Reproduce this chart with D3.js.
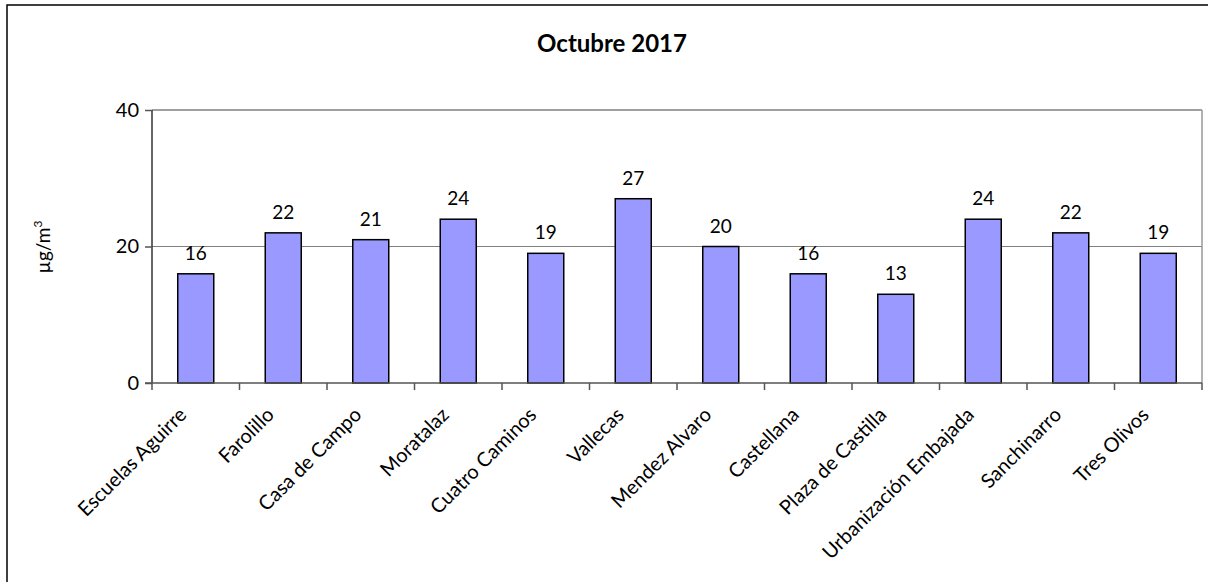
<!DOCTYPE html>
<html><head><meta charset="utf-8">
<script src="https://cdn.jsdelivr.net/npm/d3@7"></script>
<style>body{margin:0;background:#fff}</style>
</head><body>
<svg id="c" width="1208" height="582"></svg>
<script>
const categories = ["Escuelas Aguirre","Farolillo","Casa de Campo","Moratalaz","Cuatro Caminos","Vallecas","Mendez Alvaro","Castellana","Plaza de Castilla","Urbanización Embajada","Sanchinarro","Tres Olivos"];
const values = [16,22,21,24,19,27,20,16,13,24,22,19];
const yTicks = [0,20,40];
const title = "Octubre 2017";

const svg = d3.select("#c");
const font = "Lato, 'Noto Sans', sans-serif";
const L = 152, R = 1202, T = 110, B = 383;

svg.append("rect").attr("x",7).attr("y",5).attr("width",1300).attr("height",700)
  .attr("fill","none").attr("stroke","#000").attr("stroke-width",1.5);

const x = d3.scaleBand().domain(categories).range([L,R]).padding(0);
const y = d3.scaleLinear().domain([0,40]).range([B,T]);

// gridlines
svg.append("g").selectAll("line").data(yTicks.filter(d=>d>0)).join("line")
  .attr("x1",L).attr("x2",R).attr("y1",d=>y(d)).attr("y2",d=>y(d))
  .attr("stroke","#808080").attr("stroke-width",d=>d===40?1.5:1);
// right border
svg.append("line").attr("x1",R).attr("x2",R).attr("y1",T).attr("y2",B).attr("stroke","#999").attr("stroke-width",1.5);

// bars
const bw = 36;
svg.append("g").selectAll("rect").data(values).join("rect")
  .attr("x",(d,i)=>x(categories[i])+x.bandwidth()/2-bw/2)
  .attr("y",d=>y(d)).attr("width",bw).attr("height",d=>B-y(d))
  .attr("fill","#9999ff").attr("stroke","#000").attr("stroke-width",1.5);

// value labels
svg.append("g").selectAll("text").data(values).join("text")
  .attr("x",(d,i)=>x(categories[i])+x.bandwidth()/2)
  .attr("y",d=>y(d)-14)
  .attr("text-anchor","middle").attr("font-family",font).attr("font-size",19)
  .text(d=>d);

// y axis
const yAxis = d3.axisLeft(y).tickValues(yTicks).tickSize(7).tickPadding(6);
const gy = svg.append("g").attr("transform",`translate(${L},0)`).call(yAxis);
gy.select(".domain").attr("stroke","#333").attr("stroke-width",1.5).attr("d",`M0,${T}V${B}`);
gy.selectAll(".tick line").attr("stroke","#555").attr("stroke-width",1.5);
gy.selectAll(".tick text").attr("font-family",font).attr("font-size",20).attr("fill","#000");

// x axis
const xAxis = d3.axisBottom(x).tickSize(0).tickFormat("");
const gx = svg.append("g").attr("transform",`translate(0,${B})`).call(xAxis);
gx.select(".domain").attr("stroke","#555").attr("stroke-width",1.5).attr("d",`M${L-7},0H${R}`);
gx.selectAll(".tick").remove();
const bounds = categories.map(c=>x(c)).concat([R]);
gx.append("g").selectAll("line").data(bounds).join("line")
  .attr("x1",d=>d).attr("x2",d=>d).attr("y1",0).attr("y2",7)
  .attr("stroke","#555").attr("stroke-width",1.5);

// x labels
svg.append("g").selectAll("text").data(categories).join("text")
  .attr("transform",d=>`translate(${x(d)+x.bandwidth()/2-8},${B+33}) rotate(-45)`)
  .attr("text-anchor","end").attr("font-family",font).attr("font-size",20)
  .text(d=>d);

// y label
const yl = svg.append("text").attr("transform","translate(50,247) rotate(-90)")
  .attr("text-anchor","middle").attr("font-family",font).attr("font-size",19);
yl.append("tspan").text("µg/m");
yl.append("tspan").attr("font-size",12).attr("dy",-8).text("3");

// title
svg.append("text").attr("x",612).attr("y",52).attr("text-anchor","middle")
  .attr("font-family",font).attr("font-weight","bold").attr("font-size",24).text(title);
</script>
</body></html>
